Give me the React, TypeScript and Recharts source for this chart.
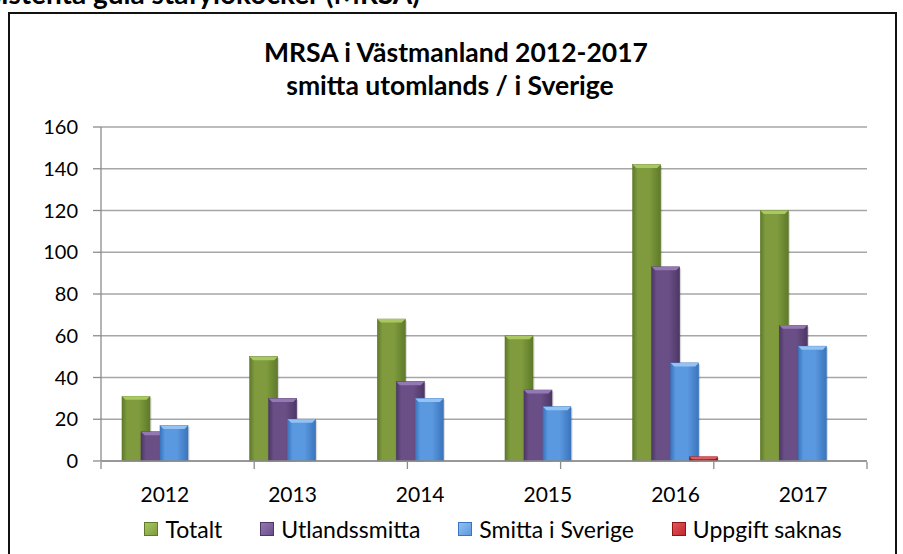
import React from 'react';
import { BarChart, Bar, XAxis, YAxis, CartesianGrid } from 'recharts';

const years = ['2012', '2013', '2014', '2015', '2016', '2017'];
const totalt = [31, 50, 68, 60, 142, 120];
const utlandssmitta = [14, 30, 38, 34, 93, 65];
const smittaSverige = [17, 20, 30, 26, 47, 55];
const uppgiftSaknas = [0, 0, 0, 0, 2, 0];
const yTicks = [0, 20, 40, 60, 80, 100, 120, 140, 160];
const edgeTicks = [0, 1, 2, 3, 4, 5, 6];

const series = [
  { key: 'totalt', name: 'Totalt', base: '#7f9b3e', light: '#a9c862', dark: '#5f7a2a' },
  { key: 'utland', name: 'Utlandssmitta', base: '#6a4f86', light: '#9478b3', dark: '#4d3766' },
  { key: 'sverige', name: 'Smitta i Sverige', base: '#5a98e0', light: '#93c2f3', dark: '#3a75bd' },
  { key: 'saknas', name: 'Uppgift saknas', base: '#c0262c', light: '#e3585c', dark: '#8e1418' },
];

const data = years.map((year, i) => ({
  year,
  totalt: totalt[i],
  utland: utlandssmitta[i],
  sverige: smittaSverige[i],
  saknas: uppgiftSaknas[i],
}));

const FONT = 'Lato, "Open Sans", sans-serif';

const BevelBar = (props: any) => {
  const { x, y, width, height, s } = props;
  if (!height || height <= 0) return null;
  const b = Math.min(3.5, height / 2);
  return (
    <g>
      <rect x={x + 1.5} y={y + 1.5} width={width} height={height - 1.5} fill="rgba(0,0,0,0.15)" />
      <rect x={x} y={y} width={width} height={height} fill={`url(#grad-${s.key})`} stroke={s.dark} strokeWidth={0.6} />
      <polygon
        points={`${x},${y} ${x + width},${y} ${x + width - b},${y + b} ${x + b},${y + b}`}
        fill={s.light}
      />
    </g>
  );
};

const LegendBox = ({ s }: any) => (
  <svg width={14} height={14} style={{ display: 'block' }}>
    <defs>
      <linearGradient id={`lg-${s.key}`} x1="0" y1="0" x2="1" y2="1">
        <stop offset="0%" stopColor={s.light} />
        <stop offset="100%" stopColor={s.base} />
      </linearGradient>
    </defs>
    <rect x={0.5} y={0.5} width={13} height={13} fill={`url(#lg-${s.key})`} stroke={s.dark} strokeWidth={1} />
  </svg>
);

const NoLabel = () => <g />;

export default function App() {
  return (
    <div style={{ position: 'fixed', left: 0, top: 0, width: 903, height: 554, overflow: 'hidden', background: '#fff' }}>
      {/* frame */}
      <div
        style={{
          position: 'absolute', left: 8, top: 12, width: 889, height: 580,
          border: '2px solid #111', boxSizing: 'border-box',
        }}
      />
      <svg width={903} height={554} style={{ position: 'absolute', left: 0, top: 0 }}>
        <text x={420} y={4} textAnchor="end" fontFamily={FONT} fontWeight={700} fontSize={28} fill="#000">
          Resistenta gula stafylokocker (MRSA)
        </text>
        <text x={456} y={62} textAnchor="middle" fontFamily={FONT} fontWeight={700} fontSize={26.5} fill="#000">
          MRSA i Västmanland 2012-2017
        </text>
        <text x={450} y={95} textAnchor="middle" fontFamily={FONT} fontWeight={700} fontSize={26.5} fill="#000">
          smitta utomlands / i Sverige
        </text>
      </svg>
      <div style={{ position: 'absolute', left: 0, top: 0 }}>
        <BarChart
          width={903}
          height={554}
          data={data}
          margin={{ top: 127, right: 36, bottom: 91, left: 41 }}
          barSize={28}
          barGap={-9}
        >
          <defs>
            {series.map((s) => (
              <linearGradient key={s.key} id={`grad-${s.key}`} x1="0" y1="0" x2="1" y2="0">
                <stop offset="0%" stopColor={s.dark} />
                <stop offset="18%" stopColor={s.base} />
                <stop offset="60%" stopColor={s.base} />
                <stop offset="100%" stopColor={s.dark} />
              </linearGradient>
            ))}
          </defs>
          <CartesianGrid xAxisId="cat" vertical={false} stroke="#a6a6a6" strokeWidth={1.3} />
          <XAxis
            xAxisId="cat"
            dataKey="year"
            height={1}
            tickLine={false}
            tickSize={0}
            tickMargin={26}
            axisLine={{ stroke: '#8c8c8c', strokeWidth: 1.3 }}
            tick={{ fill: '#000', fontSize: 21, fontFamily: FONT }}
            interval={0}
          />
          <XAxis
            xAxisId="edge"
            type="number"
            domain={[0, 6]}
            ticks={edgeTicks}
            allowDataOverflow
            height={1}
            axisLine={false}
            tickSize={7}
            tickLine={{ stroke: '#8c8c8c', strokeWidth: 1.3 }}
            tick={NoLabel}
          />
          <YAxis
            domain={[0, 160]}
            ticks={yTicks}
            width={60}
            tickSize={8}
            tickMargin={15}
            axisLine={{ stroke: '#8c8c8c', strokeWidth: 1.3 }}
            tickLine={{ stroke: '#8c8c8c', strokeWidth: 1.3 }}
            tick={{ fill: '#000', fontSize: 20, fontFamily: FONT }}
          />
          {series.map((s) => (
            <Bar
              key={s.key}
              xAxisId="cat"
              dataKey={s.key}
              name={s.name}
              fill={s.base}
              isAnimationActive={false}
              shape={(p: any) => <BevelBar {...p} s={s} />}
            />
          ))}
        </BarChart>
      </div>
      {/* legend */}
      <div
        style={{
          position: 'absolute', left: 101, top: 515, width: 766, paddingLeft: 18, boxSizing: 'border-box',
          display: 'flex', justifyContent: 'center', alignItems: 'center', gap: 38,
          fontFamily: FONT, fontSize: 23, color: '#000',
        }}
      >
        {series.map((s) => (
          <div key={s.key} style={{ display: 'flex', alignItems: 'center', gap: 7 }}>
            <LegendBox s={s} />
            <span>{s.name}</span>
          </div>
        ))}
      </div>
    </div>
  );
}
